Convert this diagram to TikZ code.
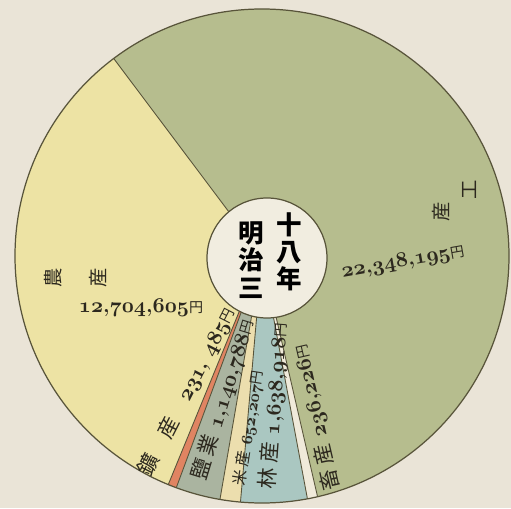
\documentclass[tikz,border=0pt]{standalone}
\usepackage{fontspec}
\usepackage{tikz}
\usepackage{xcolor}
\newfontfamily\jp{Noto Sans CJK JP}

\definecolor{paper}{RGB}{234,228,215}
\definecolor{kosan}{RGB}{182,189,142}
\definecolor{nosan}{RGB}{237,227,164}
\definecolor{redband}{RGB}{224,132,98}
\definecolor{greyband}{RGB}{170,180,160}
\definecolor{creamband}{RGB}{236,222,174}
\definecolor{blueband}{RGB}{170,199,193}
\definecolor{whiteband}{RGB}{240,234,218}
\definecolor{hub}{RGB}{241,237,224}
\definecolor{edge}{RGB}{88,84,58}
\definecolor{ink}{RGB}{44,40,30}

\newcommand{\osn}[1]{{\usefont{OML}{cmm}{b}{it}#1}}
\newcommand{\yenmark}{{\jp\mdseries\fontsize{8}{9}\selectfont 円}}

\begin{document}
\begin{tikzpicture}[x=0.02cm, y=0.02cm,
  rim/.style={draw=edge, line width=0.7pt},
  lbl/.style={inner sep=0pt, text=ink, font=\bfseries\fontsize{12}{14}\selectfont},
  kanji/.style={inner sep=0pt, text=ink, font=\jp\fontsize{11}{13}\selectfont},
  yearcol/.style={inner sep=0pt, text=black, align=center, font=\jp\bfseries\fontsize{14.5}{15.5}\selectfont}]
  % Variables
  \def \rad {247}

  % Paper
  \fill[paper] (0,0) rectangle (511,508);
  \useasboundingbox (0,0) rectangle (511,508);
  \coordinate (O) at (262,252);

  % Slices
  \foreach \a/\b/\c in {283/486.9/kosan, 126.9/247.7/nosan, 247.7/249.7/redband,
      249.7/260.2/greyband, 260.2/265/creamband, 265/280.6/blueband, 280.6/283/whiteband}
    \fill[\c] (O) -- +(\a:\rad) arc[start angle=\a, end angle=\b, radius=\rad] -- cycle;

  % Dividers
  \foreach \a in {126.9, 247.7, 249.7, 260.2, 265, 280.6, 283}
    \draw[edge, line width=0.5pt] (O) -- +(\a:\rad);
  \draw[rim] (O) circle[radius=\rad];

  % Hub
  \draw[rim, fill=hub] (267,250) circle[radius=60];
  \node[yearcol] (meiji) at (251,248) {明\\治\\三};
  \node[yearcol] (nen) at (289,256) {十\\八\\年};

  % Labels
  \node[kanji, rotate=90] (ko1) at (470,318) {工};
  \node[kanji, rotate=90] (ko2) at (441,296) {産};
  \node[lbl, rotate=10] (kosum) at (403,246) {\osn{22},\osn{348},\osn{195}\yenmark};
  \node[kanji, rotate=90] (no1) at (53,230) {農};
  \node[kanji, rotate=90] (no2) at (98,230) {産};
  \node[lbl] (nosum) at (141,200) {\osn{12},\osn{704},\osn{605}\yenmark};
  \node[lbl, rotate=63] (ore) at (187,116) {{\jp\mdseries 鑛\quad 産}\quad\osn{231},\ \osn{485}\yenmark};
  \node[lbl, rotate=73] (salt) at (223,108) {{\jp\mdseries 鹽\ 業}\ \osn{1},\osn{140},\osn{788}\yenmark};
  \node[lbl, rotate=81, font=\bfseries\fontsize{9}{10}\selectfont] (rice) at (249,80) {{\jp\mdseries 米\ 産}\ \osn{652},\osn{207}\yenmark};
  \node[lbl, rotate=86] (wood) at (274,102) {{\jp\mdseries 林\ 産}\ \osn{1},\osn{638},\osn{918}\yenmark};
  \node[lbl, rotate=103] (stock) at (316,90) {{\jp\mdseries 畜\ 産}\ \osn{236},\osn{226}\yenmark};
\end{tikzpicture}
\end{document}
